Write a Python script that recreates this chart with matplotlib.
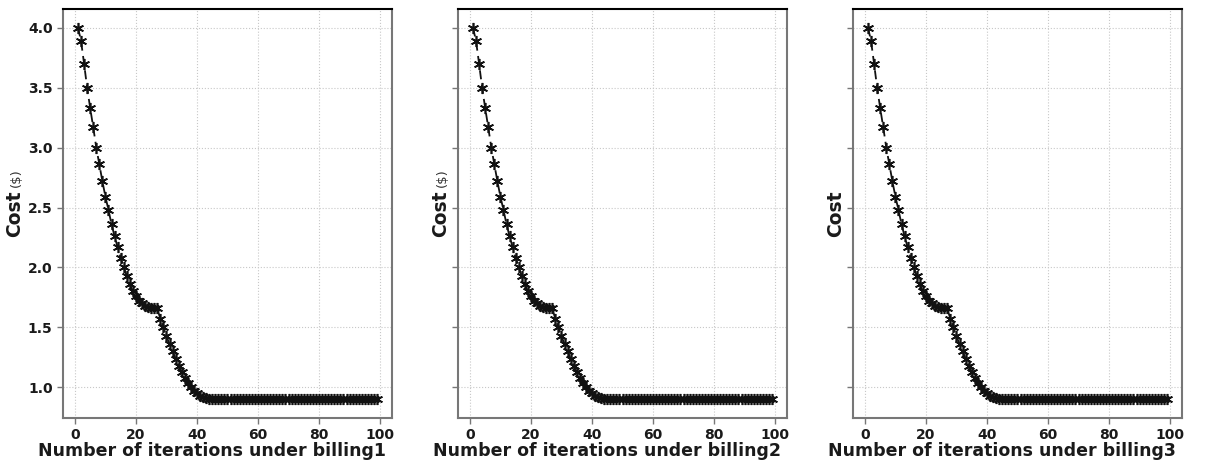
import matplotlib
matplotlib.use("Agg")
import matplotlib.pyplot as plt
import numpy as np

iterations = list(range(1, 100))
head_costs = [4.00, 3.89, 3.70, 3.50, 3.33, 3.17, 3.00, 2.86, 2.72, 2.59,
              2.48, 2.36, 2.26, 2.17, 2.08, 2.00, 1.93, 1.86, 1.80, 1.76,
              1.72, 1.70, 1.68, 1.67, 1.66, 1.66, 1.66, 1.57, 1.50, 1.43,
              1.36, 1.30, 1.24, 1.18, 1.13, 1.08, 1.04, 1.00, 0.97, 0.95,
              0.93, 0.92, 0.91]
tail_cost = 0.90
costs = head_costs + [tail_cost] * (len(iterations) - len(head_costs))
billing_names = ["billing1", "billing2", "billing3"]
ylabels_main = ["Cost", "Cost", "Cost"]
ylabels_unit = ["($)", "($)", ""]
xticks = [0, 20, 40, 60, 80, 100]
yticks = [1.0, 1.5, 2.0, 2.5, 3.0, 3.5, 4.0]

fig = plt.figure(figsize=(12.16, 4.65), dpi=100)
lefts = [63, 458, 853]
W, H = 1216, 465
axes = []
for i, L in enumerate(lefts):
    kw = {}
    if axes:
        kw["sharey"] = axes[0]
    ax = fig.add_axes([L / W, 1 - 418 / H, 329 / W, (418 - 9) / H], **kw)
    axes.append(ax)

spine_gray = "#777777"
text_col = "#1a1a1a"
for i, ax in enumerate(axes):
    ax.plot(iterations, costs, linestyle="--", color="#111111", marker=(6, 2, 0),
            markersize=8, markeredgewidth=1.2, linewidth=1.3, dashes=(5, 3))
    ax.grid(True, linestyle=":", color="#c8c8c8", linewidth=0.8)
    ax.set_axisbelow(True)
    ax.set_xticks(xticks)
    ax.set_yticks(yticks)
    for side in ["left", "right", "bottom"]:
        ax.spines[side].set_color(spine_gray)
        ax.spines[side].set_linewidth(1.5)
    ax.spines["top"].set_color("black")
    ax.spines["top"].set_linewidth(1.5)
    ax.tick_params(axis="both", colors=spine_gray, labelcolor=text_col,
                   labelsize=10, length=4, width=1)
    for lab in ax.get_xticklabels() + ax.get_yticklabels():
        lab.set_fontweight("bold")
    ax.set_xlabel("Number of iterations under " + billing_names[i],
                  fontsize=12.5, fontweight="bold", color=text_col)
    ax.xaxis.set_label_coords(0.452, -0.058, transform=ax.transAxes)
    ax.xaxis.label.set_va("top")
    if i > 0:
        ax.tick_params(axis="y", labelleft=False)
    ax.set_ylabel(ylabels_main[i], fontsize=13.5, fontweight="bold",
                  labelpad=3 if i == 0 else 2, color=text_col)

fig.canvas.draw()
for i, ax in enumerate(axes):
    if ylabels_unit[i]:
        yl = ax.yaxis.label
        bb = yl.get_window_extent()
        x = (bb.x0 + bb.x1) / 2 + 2
        y = bb.y1 + 3
        fig.text(x / W, y / H, ylabels_unit[i], rotation=90, fontsize=9.5,
                 ha="center", va="bottom", color="#333333")

fig.savefig("out.png", dpi=100)
